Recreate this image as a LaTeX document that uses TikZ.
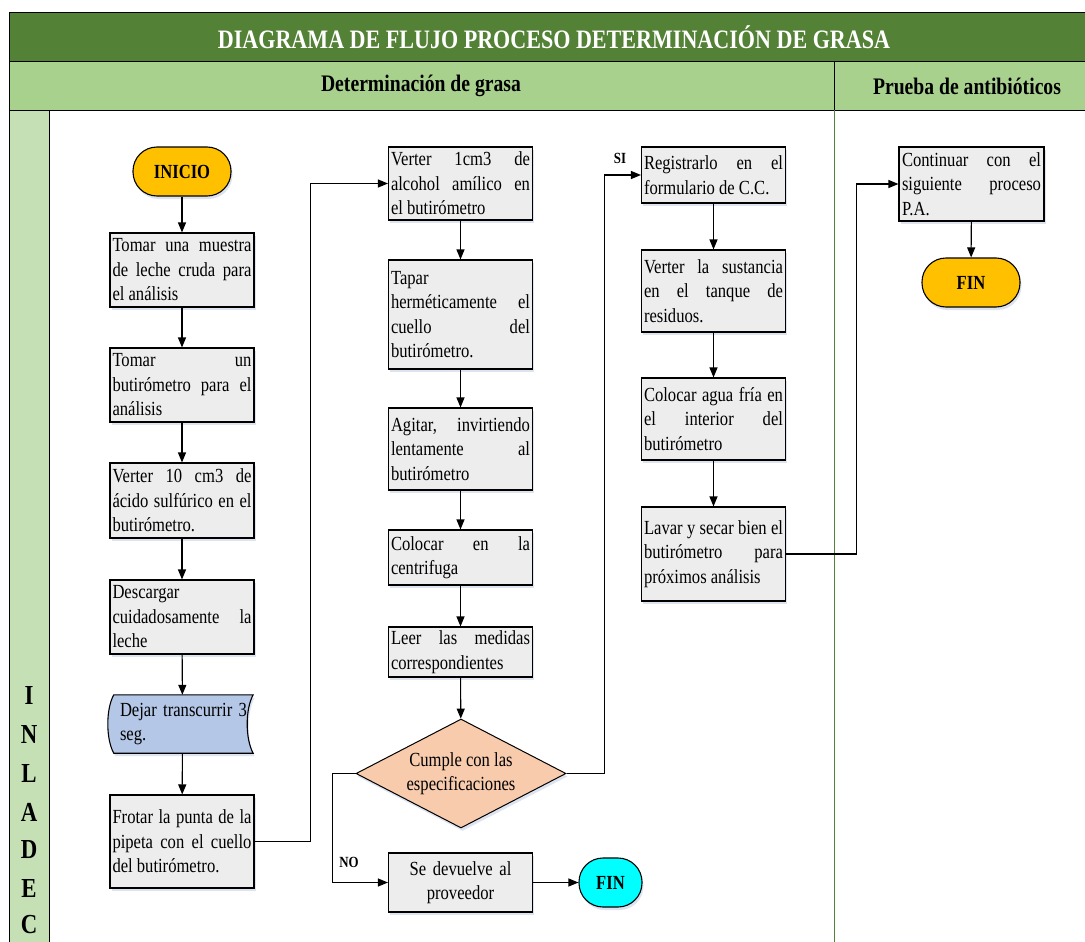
\documentclass[tikz,border=0pt]{standalone}
\usepackage{fontspec}
\setmainfont{Liberation Serif}[FakeStretch=0.83]
\usetikzlibrary{arrows.meta,shapes.geometric,shadows,calc}

\definecolor{titlegreen}{HTML}{538135}
\definecolor{headgreen}{HTML}{A9D18E}
\definecolor{lanegreen}{HTML}{C5E0B4}
\definecolor{boxgray}{HTML}{EDEDED}
\definecolor{waitblue}{HTML}{B4C7E7}
\definecolor{decision}{HTML}{F8CBAD}
\definecolor{startyellow}{HTML}{FFC000}
\definecolor{endcyan}{HTML}{00FFFF}
\definecolor{shadowblue}{HTML}{8FA8CF}

% body text: no hyphenation, lines broken by hand
\newcommand\boxfont{\fontsize{20}{24.5}\selectfont\hyphenpenalty=10000\exhyphenpenalty=10000\tolerance=10000\hbadness=10000}

\tikzset{
  softshadow/.style={drop shadow={shadow xshift=1.5pt, shadow yshift=-3pt, fill=shadowblue, opacity=0.30}},
  stepbox/.style={draw=black, line width=1.1pt, fill=boxgray, softshadow,
    rectangle, minimum width=144pt, text width=139pt, inner xsep=2.5pt, inner ysep=0pt,
    align=justify, font=\boxfont},
  terminal/.style={draw=black, line width=1.1pt, rounded corners=24pt, softshadow,
    minimum height=49pt, inner sep=0pt, font=\fontsize{20}{24}\selectfont\bfseries},
  flow/.style={line width=1.1pt, -{Triangle[length=10pt,width=8pt]}},
  branch/.style={font=\fontsize{15.5}{18}\selectfont\bfseries},
  lane/.style={font=\fontsize{27.5}{30}\selectfont\bfseries},
  header/.style={font=\fontsize{23.7}{26}\selectfont\bfseries},
}

\begin{document}
\begin{tikzpicture}[x=1pt,y=-1pt]
\useasboundingbox (0,0) rectangle (1085,942);
\begin{scope}
\clip (0,0) rectangle (1085,942);

% ---- frame: title bar, section headers, side lane ----
\fill[white] (0,0) rectangle (1085,942);
\draw[fill=titlegreen, line width=0.9pt] (9,12) rectangle (1095,61);
\draw[fill=headgreen, line width=0.9pt] (9,61) rectangle (1095,110);
\draw[fill=lanegreen, line width=0.9pt] (9,110) rectangle (49,960);
\draw[line width=0.9pt] (49,110) -- (1095,110);
\draw[titlegreen, line width=1pt] (834,61) -- (834,960);
\draw[black, line width=0.6pt] (834,61) -- (834,110);

\node (title) [text=white, font=\fontsize{26.6}{29}\selectfont\bfseries] at (554,37)
  {DIAGRAMA DE FLUJO PROCESO DETERMINACIÓN DE GRASA};
\node (secA) [header] at (421,86) {Determinación de grasa};
\node (secB) [header] at (967,86) {Prueba de antibióticos};

\node (l1) [lane] at (29,695) {I};
\node (l2) [lane] at (29,734) {N};
\node (l3) [lane] at (29,773) {L};
\node (l4) [lane] at (29,812) {A};
\node (l5) [lane] at (29,850) {D};
\node (l6) [lane] at (29,888) {E};
\node (l7) [lane] at (29,925) {C};

% ---- first column ----
\node (start) [terminal, fill=startyellow, minimum width=98pt] at (182,171.5) {INICIO};
\node (b1) [stepbox, minimum height=74pt] at (182,270)
  {Tomar una muestra\linebreak de leche cruda para\linebreak el análisis};
\node (b2) [stepbox, minimum height=74pt] at (182,385)
  {Tomar un\linebreak butirómetro para el\linebreak análisis};
\node (b3) [stepbox, minimum height=75pt] at (182,500.5)
  {Verter 10 cm3 de\linebreak ácido sulfúrico en el\linebreak butirómetro.};
\node (b4) [stepbox, minimum height=74pt] at (182,617)
  {Descargar\linebreak cuidadosamente la\linebreak leche};
% stored-data outline drawn around an empty frame node
\node (b5) [rectangle, minimum width=145pt, minimum height=58pt, inner sep=0pt] at (182.5,724) {};
\draw[line width=1.1pt, fill=waitblue, softshadow]
  ($(b5.north west)+(4,0)$) -- ($(b5.north east)+(-2,0)$)
  .. controls ($(b5.north east)+(-10,14)$) and ($(b5.south east)+(-10,-14)$) .. ($(b5.south east)+(-2,0)$)
  -- ($(b5.south west)+(4,0)$)
  .. controls ($(b5.south west)+(-4,-14)$) and ($(b5.north west)+(-4,14)$) .. ($(b5.north west)+(4,0)$) -- cycle;
\node (b5t) [text width=127pt, inner sep=0pt, align=justify, font=\boxfont]
  at (183.5,724) {Dejar transcurrir 3\linebreak seg.};
\node (b6) [stepbox, minimum height=93pt] at (182,841.5)
  {Frotar la punta de la\linebreak pipeta con el cuello\linebreak del butirómetro.};

% ---- second column ----
\node (b7) [stepbox, minimum width=143pt, minimum height=73pt] at (460.5,183.5)
  {Verter 1cm3 de\linebreak alcohol amílico en\linebreak el butirómetro};
\node (b8) [stepbox, minimum width=143pt, minimum height=109pt] at (460.5,314.5)
  {Tapar\linebreak herméticamente el\linebreak cuello del\linebreak butirómetro.};
\node (b9) [stepbox, minimum width=143pt, minimum height=82pt] at (460.5,449)
  {Agitar, invirtiendo\linebreak lentamente al\linebreak butirómetro};
\node (b10) [stepbox, minimum width=143pt, minimum height=55pt] at (460.5,557.5)
  {Colocar en la\linebreak centrifuga};
\node (b11) [stepbox, minimum width=143pt, minimum height=50pt] at (460.5,652)
  {Leer las medidas\linebreak correspondientes};
\node (dec) [diamond, draw=black, line width=1pt, fill=decision, softshadow,
  minimum width=210pt, minimum height=109pt, inner sep=0pt] at (461,773.5) {};
\node (dect) [align=center, inner sep=0pt, font=\boxfont] at (dec.center)
  {Cumple con las\\especificaciones};
\node (b13) [stepbox, minimum width=143pt, minimum height=59pt, align=center] at (460.5,882.5)
  {Se devuelve al\\proveedor};
\node (end1) [terminal, fill=endcyan, minimum width=63pt] at (610.5,882.5) {FIN};

% ---- third column ----
\node (b12) [stepbox, minimum width=143pt, minimum height=56pt] at (713.5,175)
  {Registrarlo en el\linebreak formulario de C.C.};
\node (b14) [stepbox, minimum width=143pt, minimum height=82pt] at (713.5,291)
  {Verter la sustancia\linebreak en el tanque de\linebreak residuos.};
\node (b15) [stepbox, minimum width=143pt, minimum height=82pt] at (713.5,419)
  {Colocar agua fría en\linebreak el interior del\linebreak butirómetro};
\node (b16) [stepbox, minimum width=143pt, minimum height=94pt] at (713.5,554)
  {Lavar y secar bien el\linebreak butirómetro para\linebreak próximos análisis};

% ---- antibiotic test column ----
\node (b17) [stepbox, minimum width=145pt, minimum height=74pt] at (971.5,184)
  {Continuar con el\linebreak siguiente proceso\linebreak P.A.};
\node (end2) [terminal, fill=startyellow, minimum width=98pt] at (971,282.5) {FIN};

% ---- connectors ----
\draw[flow] (start) -- (b1);
\draw[flow] (b1) -- (b2);
\draw[flow] (b2) -- (b3);
\draw[flow] (b3) -- (b4);
\draw[flow] (b4) -- (b5);
\draw[flow] (b5) -- (b6);
\draw[flow] (b6.east) -- ++(56,0) |- (b7.west);
\draw[flow] (b7) -- (b8);
\draw[flow] (b8) -- (b9);
\draw[flow] (b9) -- (b10);
\draw[flow] (b10) -- (b11);
\draw[flow] (b11) -- (dec);
\draw[flow] (dec.east) -- ++(38,0) |- (b12.west);
\draw[flow] (dec.west) -- ++(-23,0) |- (b13.west);
\draw[flow] (b13) -- (end1);
\draw[flow] (b12) -- (b14);
\draw[flow] (b14) -- (b15);
\draw[flow] (b15) -- (b16);
\draw[flow] (b16.east) -- ++(70,0) |- (b17.west);
\draw[flow] (b17) -- (end2);

\node (si) [branch] at (620,158) {SI};
\node (no) [branch] at (349,862) {NO};
\end{scope}
\end{tikzpicture}
\end{document}
